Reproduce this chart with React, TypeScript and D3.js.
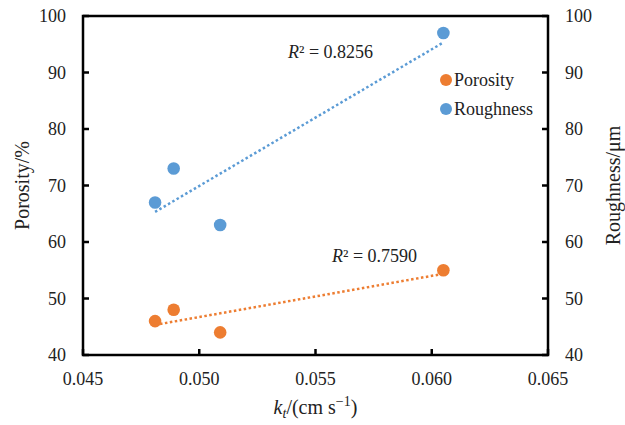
import React from "react";
import * as d3 from "d3";

// values
const ktValues = [0.0481, 0.0489, 0.0509, 0.0605];
const porosity = [46, 48, 44, 55];
const roughness = [67, 73, 63, 97];
const xTicks = [0.045, 0.05, 0.055, 0.06, 0.065];
const yTicks = [40, 50, 60, 70, 80, 90, 100];
const seriesNames = ["Porosity", "Roughness"];
const seriesColors = ["#ED7D31", "#5B9BD5"];
const r2Labels = ["0.7590", "0.8256"];

const FONT = "Liberation Serif";
const INK = "#222";

// least squares fit, returns endpoints over the x range
function fitLine(xs: number[], ys: number[]) {
  const mx = d3.mean(xs)!;
  const my = d3.mean(ys)!;
  let sxy = 0, sxx = 0;
  xs.forEach((x, i) => {
    sxy += (x - mx) * (ys[i] - my);
    sxx += (x - mx) * (x - mx);
  });
  const slope = sxy / sxx;
  const x0 = d3.min(xs)!, x1 = d3.max(xs)!;
  return [[x0, my + slope * (x0 - mx)], [x1, my + slope * (x1 - mx)]];
}

export default function App() {
  const W = 625, H = 425;
  const margin = { top: 16, right: 77, bottom: 70, left: 83 };
  const width = W - margin.left - margin.right;
  const height = H - margin.top - margin.bottom;

  const x = d3.scaleLinear().domain([0.045, 0.065]).range([0, width]);
  const yL = d3.scaleLinear().domain([40, 100]).range([height, 0]);
  const yR = d3.scaleLinear().domain([40, 100]).range([height, 0]);
  const fmtX = d3.format(".3f");

  const series = [porosity, roughness];
  const yScales = [yL, yR];
  const r2Pos = [[332, 262], [288, 58]];
  const cy = margin.top + height / 2;
  const tick = 6;

  const txt = { fontFamily: FONT, fill: INK };

  return (
    <svg width={W} height={H}
      style={{ position: "absolute", left: 0, top: 0, background: "#fff" }}>
      <g transform={`translate(${margin.left},${margin.top})`}>
        {/* frame */}
        <rect x={0} y={0} width={width} height={height} fill="none"
          stroke="#000" strokeWidth={2.5} />

        {/* x ticks */}
        {xTicks.map(t => (
          <g key={"x" + t} transform={`translate(${x(t)},${height})`}>
            <line y1={0} y2={-tick} stroke="#000" strokeWidth={2.5} />
            <text y={30} textAnchor="middle" fontSize={18} style={txt}>{fmtX(t)}</text>
          </g>
        ))}

        {/* left ticks */}
        {yTicks.map(t => (
          <g key={"l" + t} transform={`translate(0,${yL(t)})`}>
            <line x1={0} x2={tick} stroke="#000" strokeWidth={2.5} />
            <text x={-17} dy="0.35em" textAnchor="end" fontSize={18} style={txt}>{t}</text>
          </g>
        ))}

        {/* right ticks */}
        {yTicks.map(t => (
          <g key={"r" + t} transform={`translate(${width},${yR(t)})`}>
            <line x1={0} x2={-tick} stroke="#000" strokeWidth={2.5} />
            <text x={17} dy="0.35em" textAnchor="start" fontSize={18} style={txt}>{t}</text>
          </g>
        ))}

        {/* trendlines */}
        {series.map((vals, i) => {
          const pts = fitLine(ktValues, vals);
          return (
            <line key={"trend" + i}
              x1={x(pts[0][0])} y1={yScales[i](pts[0][1])}
              x2={x(pts[1][0])} y2={yScales[i](pts[1][1])}
              stroke={seriesColors[i]} strokeWidth={2.5} strokeDasharray="2.5 2.5" />
          );
        })}

        {/* points */}
        {series.map((vals, i) =>
          vals.map((v, j) => (
            <circle key={"p" + i + "-" + j} cx={x(ktValues[j])} cy={yScales[i](v)}
              r={6.3} fill={seriesColors[i]} />
          ))
        )}
      </g>

      {/* R² labels */}
      {r2Labels.map((lab, i) => (
        <text key={"r2" + i} x={r2Pos[i][0]} y={r2Pos[i][1]} fontSize={18} style={txt}>
          <tspan fontStyle="italic">R</tspan>
          <tspan>{"² = " + lab}</tspan>
        </text>
      ))}

      {/* legend */}
      {seriesNames.map((name, i) => {
        const ly = 80 + i * 29;
        return (
          <g key={"lg" + i}>
            <circle cx={446} cy={ly} r={6} fill={seriesColors[i]} />
            <text x={454} y={ly + 6} fontSize={18} style={txt}>{name}</text>
          </g>
        );
      })}

      {/* axis titles */}
      <text transform={`translate(29,${cy}) rotate(-90)`} textAnchor="middle"
        fontSize={20} style={txt}>Porosity/%</text>
      <text transform={`translate(620,${cy}) rotate(-90)`} textAnchor="middle"
        fontSize={20} style={txt}>Roughness/μm</text>
      <text x={margin.left + width / 2} y={414} textAnchor="middle" fontSize={20} style={txt}>
        <tspan fontStyle="italic">k</tspan>
        <tspan fontStyle="italic" fontSize={14} dy={4}>t</tspan>
        <tspan dy={-4}>/(cm s</tspan>
        <tspan fontSize={14} dy={-8}>−1</tspan>
        <tspan dy={8}>)</tspan>
      </text>
    </svg>
  );
}
